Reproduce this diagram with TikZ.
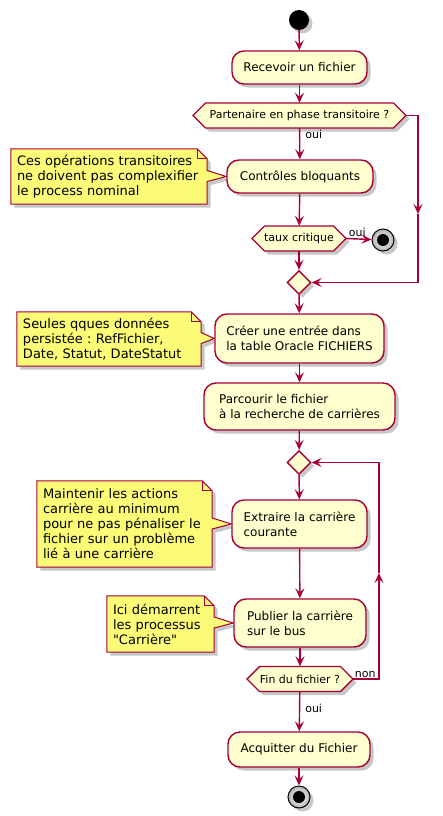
\documentclass[tikz,border=0pt]{standalone}
\usepackage{fontspec}
\setmainfont{DejaVu Sans}[Ligatures=ResetAll]
\usetikzlibrary{arrows.meta,shadows,calc,shapes.geometric}
\definecolor{pborder}{HTML}{A80036}
\definecolor{pfill}{HTML}{FEFECE}
\definecolor{nfill}{HTML}{FBFB77}
\frenchspacing
\newcommand{\straightdq}{\XeTeXglyph\XeTeXcharglyph"0022\relax}
\pgfdeclarelayer{bgwhite}
\pgfdeclarelayer{bg}
\pgfsetlayers{bgwhite,bg,main}
\newcommand{\hexa}[5]{%
 \draw[hexst] ({#2-#4},#3) -- ({#2-#4+12.5},{#3-12.5}) -- ({#2+#4-12.5},{#3-12.5}) -- ({#2+#4},#3) -- ({#2+#4-12.5},{#3+12.5}) -- ({#2-#4+12.5},{#3+12.5}) -- cycle;
 \node[hextext,minimum width={(2*#4)*1pt}] (#1) at (#2,#3) {#5};}
\newcommand{\notepath}[2]{%
 \begin{pgfonlayer}{bg}
 \draw[notest] (#1.north west) -- ([xshift=-10pt]#1.north east) -- ([yshift=-10pt]#1.north east) -- ($(#1.east |- #2.west)+(0,-6)$) -- (#2.west) -- ($(#1.east |- #2.west)+(0,5)$) -- (#1.south east) -- (#1.south west) -- cycle;
 \draw[notefold] ([xshift=-10pt]#1.north east) -- ([xshift=-10pt,yshift=-10pt]#1.north east) -- ([yshift=-10pt]#1.north east);
 \end{pgfonlayer}}
\begin{document}
\begin{tikzpicture}[x=1pt,y=-1pt,
 shad/.style={drop shadow={shadow xshift=3.5pt,shadow yshift=-3.5pt,opacity=0.22,fill=black}},
 act/.style={draw=pborder,fill=pfill,line width=1.4pt,rounded corners=12pt,shad,font=\fontsize{12}{15}\selectfont,align=left,inner sep=0pt},
 hexst/.style={draw=pborder,fill=pfill,line width=1.4pt,shad},
 hextext/.style={draw=none,inner sep=0pt,minimum height=25pt,font=\fontsize{11}{13}\selectfont},
 merge/.style={diamond,draw=pborder,fill=pfill,line width=1.4pt,shad,minimum width=24pt,minimum height=24pt,inner sep=0pt},
 notebox/.style={draw=none,align=left,inner xsep=6pt,inner ysep=0pt,font=\fontsize{13}{15}\selectfont},
 notest/.style={draw=pborder,fill=nfill,line width=1pt,shad},
 notefold/.style={draw=pborder,line width=1pt},
 arr/.style={draw=pborder,line width=1.4pt,-{Stealth[length=10pt,width=9pt,inset=4pt]}},
 lbl/.style={font=\fontsize{11}{13}\selectfont,inner sep=1pt},
 startst/.style={circle,fill=black,minimum size=20pt,inner sep=0pt,shad},
 stopst/.style={circle,draw=black,line width=1pt,inner color=white,outer color=black!30,minimum size=22pt,inner sep=0pt,shad}
]
\begin{pgfonlayer}{bgwhite}
\fill[white] (0,0) rectangle (443,816);
\end{pgfonlayer}
\useasboundingbox (0,0) rectangle (443,816);

\node[startst] (start) at (299,20) {};
\node[act,minimum width=135pt,minimum height=33pt] (recv) at (299.5,67.5) {Recevoir un fichier};
\hexa{d1}{299.5}{115.5}{106.5}{Partenaire en phase transitoire ?}
\node[act,minimum width=146pt,minimum height=33pt] (ctrl) at (300,176.5) {Contrôles bloquants};
\hexa{d2}{299}{238.5}{47}{taux critique}
\node[stopst] (stop1) at (383,240) {};
\fill[black] (stop1.center) circle (6);
\node[merge] (m1) at (299,282.5) {};
\node[act,minimum width=169pt,minimum height=49pt] (creer) at (299.5,338.5) {Créer une entrée dans\\la table Oracle FICHIERS};
\node[act,minimum width=191pt,minimum height=47pt] (parc) at (299.5,406.5) {Parcourir le fichier\\à la recherche de carrières};
\node[merge] (m2) at (299,462.5) {};
\node[act,minimum width=135pt,minimum height=48pt] (extr) at (299.5,524) {Extraire la carrière\\courante};
\node[act,minimum width=132pt,minimum height=48pt] (publ) at (300,623) {Publier la carrière\\sur le bus};
\hexa{d3}{300}{679}{53}{Fin du fichier ?}
\node[act,minimum width=142pt,minimum height=35pt] (acq) at (299,749.5) {Acquitter du Fichier};
\node[stopst] (stop2) at (299,797) {};
\fill[black] (stop2.center) circle (6);

% notes
\node[notebox,text width=184pt,minimum height=55pt] (n1) at (109,176.5) {Ces opérations transitoires\\ne doivent pas complexifier\\le process nominal};
\notepath{n1}{ctrl}
\node[notebox,text width=172pt,minimum height=54pt] (n2) at (109,339) {Seules qques données\\persistée : RefFichier,\\Date, Statut, DateStatut};
\notepath{n2}{creer}
\node[notebox,text width=163pt,minimum height=86pt] (n3) at (124.5,524) {Maintenir les actions\\carrière au minimum\\pour ne pas pénaliser le\\fichier sur un problème\\lié à une carrière};
\notepath{n3}{extr}
\node[notebox,text width=95pt,minimum height=56pt] (n4) at (160.5,624) {Ici démarrent\\les processus\\\straightdq Carrière\straightdq};
\notepath{n4}{publ}

% connectors
\coordinate (rc1) at (418,214);
\coordinate (lc) at (379,573);
\draw[arr] (start) -- (recv);
\draw[arr] (recv) -- (d1);
\draw[arr] (d1) -- node[lbl,pos=0.2,anchor=west,xshift=4pt]{oui} (ctrl);
\draw[arr] (d1.east) -| (rc1);
\draw[arr] (rc1) |- (m1.east);
\draw[arr] (ctrl) -- (d2);
\draw[arr] (d2.east) -- node[lbl,pos=0,anchor=south west,xshift=1pt]{oui} (stop1);
\draw[arr] (d2) -- (m1);
\draw[arr] (m1) -- (creer);
\draw[arr] (creer) -- (parc);
\draw[arr] (parc) -- (m2);
\draw[arr] (m2) -- (extr);
\draw[arr] (extr) -- (publ);
\draw[arr] (publ) -- (d3);
\draw[arr] (d3.east) -- node[lbl,pos=0,anchor=south west,xshift=0pt]{non} (d3.east -| lc) -- (lc);
\draw[arr] (lc) |- (m2.east);
\draw[arr] (d3) -- node[lbl,pos=0.43,anchor=west,xshift=4pt]{oui} (acq);
\draw[arr] (acq) -- (stop2);
\end{tikzpicture}
\end{document}
